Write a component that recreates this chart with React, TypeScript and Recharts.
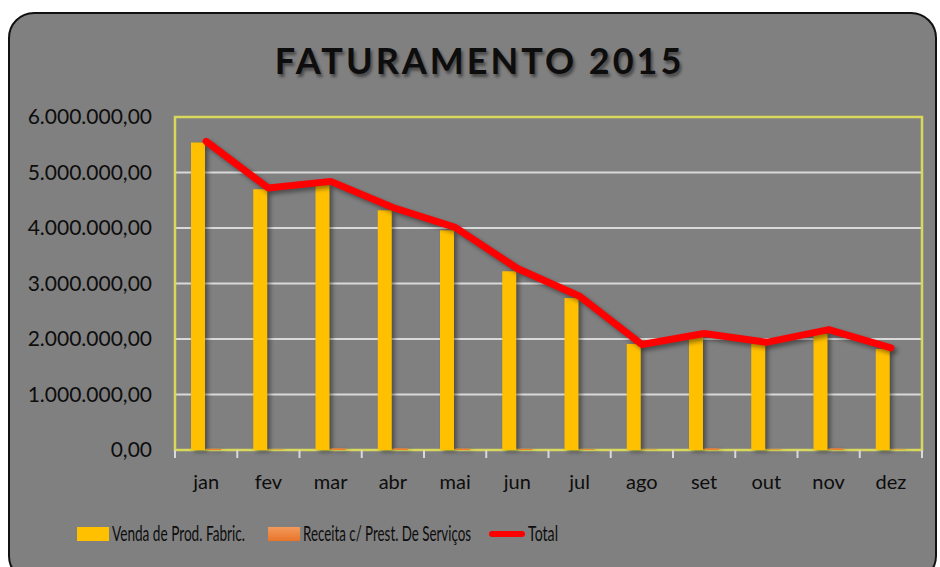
import React from 'react';
import { ComposedChart, Bar, Line, XAxis, YAxis, CartesianGrid, ReferenceArea } from 'recharts';

const MONTHS = ['jan', 'fev', 'mar', 'abr', 'mai', 'jun', 'jul', 'ago', 'set', 'out', 'nov', 'dez'];
const VENDA = [5540000, 4700000, 4770000, 4320000, 3960000, 3220000, 2740000, 1910000, 2030000, 1910000, 2090000, 1820000];
const RECEITA = [20000, 8000, 30000, 30000, 25000, 20000, 15000, 8000, 30000, 12000, 30000, 8000];
const TOTAL = [5560000, 4720000, 4840000, 4370000, 4010000, 3270000, 2770000, 1900000, 2100000, 1940000, 2170000, 1840000];
const Y_TICKS = [0, 1000000, 2000000, 3000000, 4000000, 5000000, 6000000];

const data = MONTHS.map((m, i) => ({ name: m, venda: VENDA[i], receita: RECEITA[i], total: TOTAL[i] }));

const FONT = 'Lato, "Open Sans", sans-serif';
const YELLOW = '#FFC000';
const ORANGE = '#ED7D31';
const GRID = '#d9d9d9';

// 6000000 -> "6.000.000,00"
const fmt = (v: number) => {
  const s = Math.round(v).toString().replace(/\B(?=(\d{3})+(?!\d))/g, '.');
  return s + ',00';
};

const MonthTick = (props: any) => {
  const { x, y, payload, index, visibleTicksCount } = props;
  const half = 747 / 12 / 2;
  return (
    <g>
      <line x1={x - half} x2={x - half} y1={y} y2={y + 8} stroke={GRID} strokeWidth={2} />
      {index === visibleTicksCount - 1 && (
        <line x1={x + half} x2={x + half} y1={y} y2={y + 8} stroke={GRID} strokeWidth={2} />
      )}
      <text x={x} y={y + 32} dy="0.35em" textAnchor="middle" fill="#0d0d0d" fontSize={20} fontFamily={FONT}>
        {payload.value}
      </text>
    </g>
  );
};

// condensed legend label (the original font is narrow and tall)
const LegendText = ({ x, w, children }: { x: number; w: number; children: string }) => (
  <g transform={`translate(${x},22) scale(1,1.3)`}>
    <text x={0} y={0} fontSize={16} fontFamily={FONT} fill="#0d0d0d" textLength={w} lengthAdjust="spacingAndGlyphs">
      {children}
    </text>
  </g>
);

export default function App() {
  return (
    <div
      style={{
        position: 'absolute',
        left: 8,
        top: 12,
        width: 929,
        height: 570,
        background: '#808080',
        border: '2px solid #111',
        borderRadius: 26,
        boxSizing: 'border-box',
        overflow: 'hidden',
        fontFamily: FONT,
      }}
    >
      <style>{`
        .recharts-bar-rectangle path { filter: drop-shadow(3px 2px 2px rgba(0,0,0,0.4)); }
        .recharts-line-curve { filter: drop-shadow(3px 3px 2px rgba(0,0,0,0.4)); }
      `}</style>
      <div
        style={{
          position: 'absolute',
          top: 24,
          left: 7,
          width: 925,
          textAlign: 'center',
          fontSize: 36,
          fontWeight: 700,
          letterSpacing: 3,
          color: '#0d0d0d',
          textShadow: '2px 3px 3px rgba(0,0,0,0.45)',
        }}
      >
        FATURAMENTO 2015
      </div>
      <div style={{ position: 'absolute', left: 0, top: 0 }}>
        <ComposedChart
          width={925}
          height={540}
          data={data}
          margin={{ top: 103, right: 13, left: 0, bottom: 44 }}
          barSize={14}
          barGap={2}
        >
          <CartesianGrid horizontal vertical={false} stroke={GRID} strokeWidth={2} />
          <XAxis
            dataKey="name"
            height={60}
            axisLine={false}
            tickLine={false}
            tickSize={0}
            tickMargin={0}
            interval={0}
            tick={<MonthTick />}
          />
          <YAxis
            width={165}
            domain={[0, 6000000]}
            ticks={Y_TICKS}
            tickFormatter={fmt}
            axisLine={false}
            tickLine={false}
            tickSize={0}
            tickMargin={23}
            tick={{ fill: '#0d0d0d', fontSize: 21, fontFamily: FONT }}
          />
          <ReferenceArea y1={0} y2={6000000} fill="none" stroke="#d8d85c" strokeWidth={2.5} ifOverflow="visible" />
          <Bar dataKey="venda" name="Venda de Prod. Fabric." fill={YELLOW} isAnimationActive={false} />
          <Bar dataKey="receita" name="Receita c/ Prest. De Serviços" fill={ORANGE} isAnimationActive={false} />
          <Line
            dataKey="total"
            name="Total"
            type="linear"
            stroke="#FF0000"
            strokeWidth={7}
            strokeLinecap="round"
            strokeLinejoin="round"
            dot={false}
            activeDot={false}
            isAnimationActive={false}
          />
        </ComposedChart>
      </div>
      <svg width={925} height={34} style={{ position: 'absolute', left: 0, top: 505 }}>
        <defs>
          <linearGradient id="orangeSw" x1="0" y1="0" x2="0" y2="1">
            <stop offset="0" stopColor="#f39a5c" />
            <stop offset="1" stopColor="#e8742a" />
          </linearGradient>
        </defs>
        <rect x={67} y={8} width={32} height={14} fill={YELLOW} />
        <LegendText x={102} w={133}>Venda de Prod. Fabric.</LegendText>
        <rect x={258} y={8} width={32} height={14} fill="url(#orangeSw)" />
        <LegendText x={293} w={168}>Receita c/ Prest. De Serviços</LegendText>
        <line x1={482} x2={512} y1={15} y2={15} stroke="#FF0000" strokeWidth={6} strokeLinecap="round" />
        <LegendText x={518} w={30}>Total</LegendText>
      </svg>
    </div>
  );
}
